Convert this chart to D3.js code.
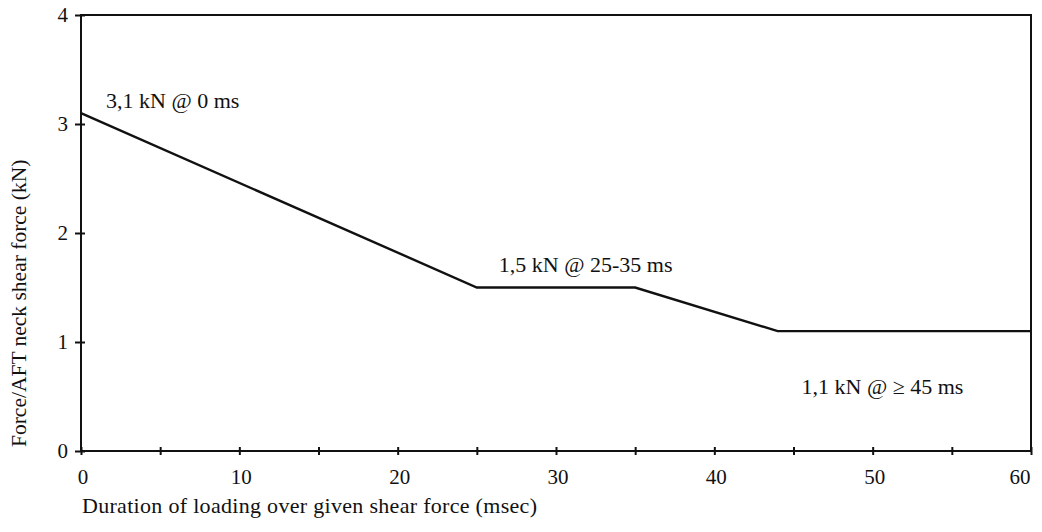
<!DOCTYPE html>
<html><head><meta charset="utf-8">
<script src="https://cdn.jsdelivr.net/npm/d3@7"></script>
<style>body{margin:0;background:#fff}svg text{font-family:"Liberation Serif","DejaVu Serif",serif;fill:#111}</style>
</head><body><svg id="c" width="1042" height="532"></svg>
<script>
const timeMs = [0, 25, 35, 44, 60];
const forceKN = [3.1, 1.5, 1.5, 1.1, 1.1];
const xTicksMajor = [0, 10, 20, 30, 40, 50, 60];
const xTicksMinor = [0, 5, 10, 15, 20, 25, 30, 35, 40, 45, 50, 55, 60];
const yTicks = [0, 1, 2, 3, 4];
const annotationTexts = ["3,1 kN @ 0 ms", "1,5 kN @ 25-35 ms", "1,1 kN @ \u2265 45 ms"];
const xTitle = "Duration of loading over given shear force (msec)";
const yTitle = "Force/AFT neck shear force (kN)";

const svg = d3.select("#c");
const x = d3.scaleLinear().domain([0, 60]).range([81, 1031]);
const y = d3.scaleLinear().domain([0, 4]).range([451, 15]);

// frame
svg.append("rect").attr("x", x(0)).attr("y", y(4)).attr("width", x(60)-x(0)).attr("height", y(0)-y(4))
  .attr("fill", "none").attr("stroke", "#111").attr("stroke-width", 2);

// x axis ticks (crosses)
const gx = svg.append("g").attr("transform", `translate(0,${y(0)})`)
  .call(d3.axisBottom(x).tickValues(xTicksMinor).tickSize(4).tickFormat(""));
gx.select(".domain").remove();
gx.selectAll(".tick line").attr("y1", -4).attr("y2", 4).attr("stroke", "#111").attr("stroke-width", 2);
svg.append("g").selectAll("text").data(xTicksMajor).join("text")
  .attr("x", d => x(d) + 2 - (d === 60 ? 13 : 0)).attr("y", 484).attr("text-anchor", "middle")
  .attr("font-size", 21).text(d => d);

// y axis ticks
const gy = svg.append("g").attr("transform", `translate(${x(0)},0)`)
  .call(d3.axisLeft(y).tickValues(yTicks).tickSize(4).tickFormat(""));
gy.select(".domain").remove();
gy.selectAll(".tick line").attr("x1", -6).attr("x2", 4).attr("stroke", "#111").attr("stroke-width", 2);
svg.append("g").selectAll("text").data(yTicks).join("text")
  .attr("x", x(0) - 13).attr("y", d => y(d) + 7).attr("text-anchor", "end")
  .attr("font-size", 21).text(d => d);

// line
const pts = timeMs.map((t, i) => [t, forceKN[i]]);
svg.append("path").datum(pts)
  .attr("d", d3.line().x(d => x(d[0])).y(d => y(d[1])))
  .attr("fill", "none").attr("stroke", "#111").attr("stroke-width", 2.4);

// annotations
svg.append("text").attr("x", x(0) + 25).attr("y", y(3.1) - 5).attr("font-size", 22).text(annotationTexts[0]);
svg.append("text").attr("x", x(25) + 22).attr("y", y(1.5) - 16).attr("font-size", 22).text(annotationTexts[1]);
svg.append("text").attr("x", x(45) + 8).attr("y", y(1.1) + 63).attr("font-size", 22).text(annotationTexts[2]);

// titles
svg.append("text").attr("x", 82).attr("y", 513).attr("font-size", 22)
  .attr("textLength", 455).attr("lengthAdjust", "spacing").text(xTitle);
svg.append("text").attr("transform", `translate(26,447) rotate(-90)`)
  .attr("text-anchor", "start").attr("font-size", 21.5).text(yTitle);
</script></body></html>
